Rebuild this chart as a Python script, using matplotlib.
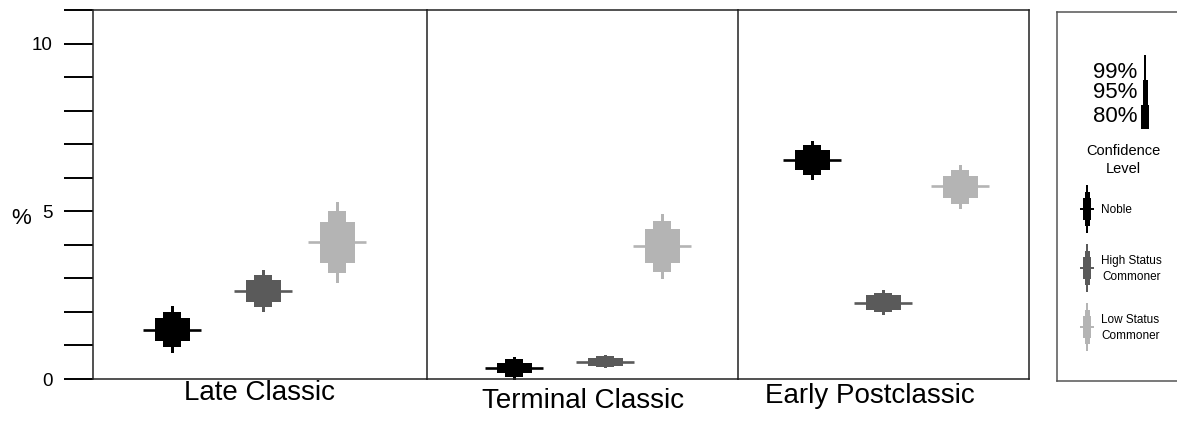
import matplotlib
matplotlib.use("Agg")
import matplotlib.pyplot as plt

plt.rcParams['font.family'] = ['Liberation Sans', 'DejaVu Sans']

periods = ["Late Classic", "Terminal Classic", "Early Postclassic"]
groups = ["Noble", "High Status\nCommoner", "Low Status\nCommoner"]
colors = ["#000000", "#5a5a5a", "#b4b4b4"]

# means and confidence intervals (lo, hi) per group, one entry per period
noble_mean = [1.46, 0.34, 6.54]
noble_80 = [(1.13, 1.82), (0.17, 0.47), (6.24, 6.82)]
noble_95 = [(0.95, 1.99), (0.07, 0.59), (6.09, 6.99)]
noble_99 = [(0.77, 2.17), (-0.03, 0.65), (5.94, 7.09)]

high_mean = [2.62, 0.52, 2.27]
high_80 = [(2.29, 2.95), (0.40, 0.63), (2.05, 2.50)]
high_95 = [(2.14, 3.10), (0.37, 0.69), (1.99, 2.55)]
high_99 = [(1.99, 3.24), (0.32, 0.73), (1.90, 2.65)]

low_mean = [4.09, 3.96, 5.74]
low_80 = [(3.46, 4.68), (3.47, 4.46), (5.40, 6.05)]
low_95 = [(3.15, 5.00), (3.19, 4.71), (5.22, 6.22)]
low_99 = [(2.86, 5.28), (2.97, 4.93), (5.07, 6.37)]

conf_levels = ["99%", "95%", "80%"]

means = [noble_mean, high_mean, low_mean]
ci80 = [noble_80, high_80, low_80]
ci95 = [noble_95, high_95, low_95]
ci99 = [noble_99, high_99, low_99]

# layout in pixels
W, H = 1177, 442
edges = [93, 427, 738, 1029]
top_px, bot_px = 10, 379
xpos = [[79, 170, 244], [87, 178, 235], [74, 145, 222]]
label_pos = [(259, 393), (583, 401), (870, 396)]


def rect(x0, y0, x1, y1):
    return [x0 / W, 1 - y1 / H, (x1 - x0) / W, (y1 - y0) / H]


fig = plt.figure(figsize=(W / 100, H / 100), dpi=100)

axes = []
for p in range(3):
    ax = fig.add_axes(rect(edges[p], top_px, edges[p + 1], bot_px))
    ax.set_xlim(0, edges[p + 1] - edges[p])
    ax.set_ylim(0, 11)
    ax.set_xticks([])
    for s in ax.spines.values():
        s.set_color("#222222")
        s.set_linewidth(1.1)
    if p < 2:
        ax.spines['right'].set_visible(False)
    for g in range(3):
        x = xpos[p][g]
        c = colors[g]
        lo, hi = ci99[g][p]
        ax.bar(x, hi - lo, bottom=lo, width=3, color=c, lw=0, clip_on=False)
        lo, hi = ci95[g][p]
        ax.bar(x, hi - lo, bottom=lo, width=18, color=c, lw=0, clip_on=False)
        lo, hi = ci80[g][p]
        ax.bar(x, hi - lo, bottom=lo, width=35, color=c, lw=0, clip_on=False)
        ax.hlines(means[g][p], x - 29, x + 29, color=c, lw=1.9)
    lx, ly = label_pos[p]
    fig.text(lx / W, 1 - ly / H, periods[p], fontsize=20, ha='center', va='center')
    axes.append(ax)

ax1 = axes[0]
ax1.set_yticks(range(12))
ax1.set_yticklabels(["0", "", "", "", "", "5", "", "", "", "", "10", ""], fontsize=13.5)
ax1.tick_params(axis='y', length=21, width=1.4, pad=8, direction='out')
for ax in axes[1:]:
    ax.set_yticks([])
fig.text(21 / W, 1 - 218 / H, "%", fontsize=16, ha='center', va='center')

# legend panel, drawn in pixel coordinates
lg = fig.add_axes(rect(1057, 12, 1190, 381))
lg.set_xlim(1057, 1190)
lg.set_ylim(381, 12)
lg.set_xticks([])
lg.set_yticks([])
for s in lg.spines.values():
    s.set_color("#555555")
    s.set_linewidth(1.1)
lg.spines['right'].set_visible(False)

# confidence key
lg.bar(1145, 25, bottom=55, width=1.4, color="black", lw=0)
lg.bar(1145, 25, bottom=80, width=5, color="black", lw=0)
lg.bar(1145, 24, bottom=105, width=8, color="black", lw=0)
for lab, y in zip(conf_levels, [72, 93, 117]):
    lg.text(1137, y, lab, fontsize=16, ha='right', va='center')
lg.text(1123, 160, "Confidence\nLevel", fontsize=10.5, ha='center', va='center',
        linespacing=1.45)

# group key
icon_y = [209, 268, 327]
for g in range(3):
    y = icon_y[g]
    c = colors[g]
    lg.bar(1087, 48, bottom=y - 24, width=2, color=c, lw=0)
    lg.bar(1087, 34, bottom=y - 17, width=5, color=c, lw=0)
    lg.bar(1087, 22, bottom=y - 11, width=8, color=c, lw=0)
    lg.hlines(y, 1080, 1094, color=c, lw=1.4)
    lg.text(1101, y + 1, groups[g], fontsize=8.5, ha='left', va='center',
            multialignment='center', linespacing=1.45)

fig.savefig("out.png", dpi=100)
